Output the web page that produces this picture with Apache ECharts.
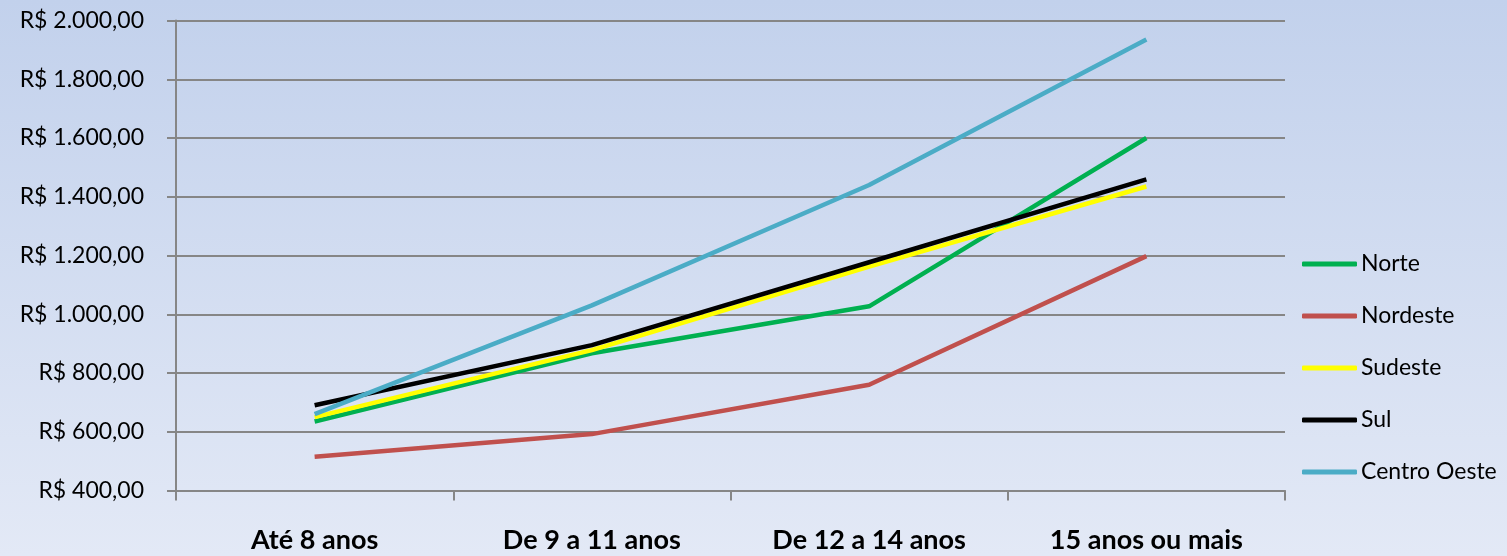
<!DOCTYPE html>
<html>
<head>
<meta charset="utf-8">
<script src="https://cdn.jsdelivr.net/npm/echarts@6/dist/echarts.min.js"></script>
<style>
html,body{margin:0;padding:0;background:#fff;}
#chart{width:1507px;height:556px;}
</style>
</head>
<body>
<div id="chart"></div>
<script>
const categories = ['Até 8 anos', 'De 9 a 11 anos', 'De 12 a 14 anos', '15 anos ou mais'];
const seriesNames = ['Norte', 'Nordeste', 'Sudeste', 'Sul', 'Centro Oeste'];
const norte = [635, 867, 1027, 1600];
const nordeste = [515, 592, 760, 1198];
const sudeste = [650, 878, 1162, 1435];
const sul = [690, 895, 1177, 1459];
const centroOeste = [660, 1030, 1440, 1935];
const seriesColors = ['#00b050', '#c0504d', '#ffff00', '#000000', '#4bacc6'];
const yMin = 400, yMax = 2000, yStep = 200;

function brl(v) {
  const whole = Math.floor(v);
  const s = String(whole).replace(/\B(?=(\d{3})+(?!\d))/g, '.');
  return 'R$ ' + s + ',00';
}

const allData = [norte, nordeste, sudeste, sul, centroOeste];
const chart = echarts.init(document.getElementById('chart'), null, {renderer: 'canvas'});
const font = 'Lato, "Open Sans", sans-serif';
chart.setOption({
  animation: false,
  backgroundColor: new echarts.graphic.LinearGradient(0, 0, 0, 1, [
    {offset: 0, color: '#c2d1ec'},
    {offset: 1, color: '#e3e9f6'}
  ]),
  grid: {left: 176, right: 222, top: 20.5, bottom: 65.5, containLabel: false},
  legend: {
    orient: 'vertical',
    left: 1297,
    top: 247,
    itemWidth: 55,
    itemHeight: 5,
    itemGap: 28,
    icon: 'roundRect',
    textStyle: {fontFamily: font, fontSize: 23, color: '#000', padding: [0, 0, 0, -1], lineHeight: 24},
    data: seriesNames
  },
  xAxis: {
    type: 'category',
    data: categories,
    boundaryGap: true,
    axisLine: {lineStyle: {color: '#868686', width: 2}},
    axisTick: {show: true, length: 10, lineStyle: {color: '#868686', width: 2}},
    axisLabel: {fontFamily: font, fontSize: 27, fontWeight: 'bold', color: '#000', margin: 36}
  },
  yAxis: {
    type: 'value',
    min: yMin,
    max: yMax,
    interval: yStep,
    axisLine: {show: true, lineStyle: {color: '#868686', width: 2}},
    axisTick: {show: true, length: 9, lineStyle: {color: '#868686', width: 2}},
    splitLine: {show: true, lineStyle: {color: '#868686', width: 2}},
    axisLabel: {fontFamily: font, fontSize: 23, color: '#000', margin: 32, formatter: brl}
  },
  series: seriesNames.map((n, i) => ({
    name: n,
    type: 'line',
    data: allData[i],
    color: seriesColors[i],
    showSymbol: false,
    symbol: 'none',
    lineStyle: {width: 4.5, color: seriesColors[i]}
  }))
});
</script>
</body>
</html>
